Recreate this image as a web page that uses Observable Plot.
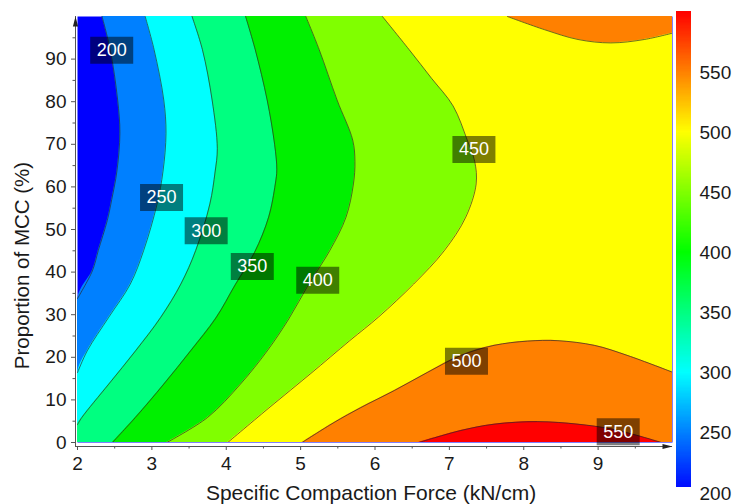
<!DOCTYPE html>
<html><head><meta charset="utf-8">
<script src="https://cdn.jsdelivr.net/npm/d3@7"></script>
<script src="https://cdn.jsdelivr.net/npm/@observablehq/plot@0.6"></script>
<style>
body{margin:0;background:#fff;}
#wrap{position:relative;width:732px;height:504px;}
#wrap svg{position:absolute;top:0;overflow:visible;}
</style></head><body><div id="wrap"></div>
<script>
// ---- data ----
const xDomain = [2, 10];
const yDomain = [0, 100];
const xTicks = [2, 3, 4, 5, 6, 7, 8, 9];
const xMinorTicks = [2.5, 3.5, 4.5, 5.5, 6.5, 7.5, 8.5, 9.5];
const yTicks = [0, 10, 20, 30, 40, 50, 60, 70, 80, 90];
const yMinorTicks = [5, 15, 25, 35, 45, 55, 65, 75, 85, 95];
const levels = [200, 250, 300, 350, 400, 450, 500, 550];
const bandColors = ["#0000ff", "#0080ff", "#00ffff", "#00ff80", "#00f000", "#80ff00", "#ffff00", "#ff8000", "#ff0000"];

// contour lines [x, y] (left family: x as a function of y)
const c200 = [[2,33.8],[2.20,40.3],[2.28,45.1],[2.40,52.1],[2.46,57],[2.53,63.7],[2.57,72.6],[2.54,80.4],[2.44,92.2],[2.33,100]];
const c250 = [[2,16.4],[2.13,21.5],[2.42,29.4],[2.71,37.2],[2.89,45.1],[3.07,56.0],[3.15,63.7],[3.19,72.6],[3.16,80.4],[3.03,92.2],[2.91,100]];
const c300 = [[2,4.2],[2.06,5.9],[2.42,13.7],[2.78,21.5],[3.12,29.4],[3.39,37.2],[3.59,45.1],[3.78,56.0],[3.85,63.5],[3.88,69],[3.81,80.4],[3.68,92.2],[3.54,100]];
const c350 = [[2.47,0],[2.78,5.9],[3.16,13.7],[3.52,21.5],[3.86,29.2],[4.12,37],[4.38,44.6],[4.57,52.9],[4.66,60.7],[4.68,64],[4.65,70],[4.55,80.4],[4.39,92.2],[4.26,100]];
const c400 = [[3.2,0],[3.75,5.9],[4.19,13.7],[4.55,21.5],[4.84,29],[5.11,37.2],[5.39,45.0],[5.61,52.9],[5.71,60.7],[5.73,66],[5.70,71],[5.49,80.4],[5.25,92.2],[5.07,100]];
const c450 = [[4.02,0],[4.6,8.5],[5.13,16.1],[5.66,23.9],[6.05,29.5],[6.52,37.2],[6.93,45.0],[7.22,52.9],[7.36,60.7],[7.34,66],[7.24,71],[7.05,79],[6.76,85.5],[6.46,92.2],[6.10,100]];
// right family: y as a function of x
const c500Bottom = [[5.02,0],[5.45,4.7],[5.81,8.2],[6.26,12.2],[6.71,16.5],[7.15,20.4],[7.60,22.8],[8.05,23.8],[8.46,23.9],[8.95,22.8],[9.40,20.4],[10,16.5]];
const c500Top = [[7.78,100],[8.28,96.9],[8.73,94.6],[9.17,93.8],[9.62,94.6],[10,96.1]];
const c550 = [[6.59,0],[7.15,2.8],[7.60,4.3],[8.19,4.9],[8.73,4.3],[9.17,3.2],[9.62,1.2],[9.85,0]];

const labelValues = [200, 250, 300, 350, 400, 450, 500, 550];
const labelX = [2.46, 3.13, 3.73, 4.35, 5.23, 7.33, 7.23, 9.27];
const labelY = [92.1, 57.5, 49.7, 41.3, 38.1, 68.8, 19.1, 2.5];

const colorbarTicks = [200, 250, 300, 350, 400, 450, 500, 550];
const colorbarStops = [200, 250, 300, 350, 400, 450, 500, 550, 600];
const colorbarColors = ["#0000ff", "#0080ff", "#00ffff", "#00ff80", "#00ff00", "#80ff00", "#ffff00", "#ff8000", "#ff0000"];
const colorbarRange = [205, 600];

const xTitle = "Specific Compaction Force (kN/cm)";
const yTitle = "Proportion of MCC (%)";

// ---- drawing ----
const font = "Arial, 'Liberation Sans', sans-serif";
const colorOf = v => bandColors[levels.indexOf(v) + 1];
const X = d => d[0], Y = d => d[1];
const curve = "catmull-rom";
const lineStyle = {stroke: "#2a2a2a", strokeWidth: 0.8, strokeOpacity: 0.85, clip: true};

const leftSets = [[200, c200], [250, c250], [300, c300], [350, c350], [400, c400], [450, c450]];
const leftAreas = leftSets.map(([lv, pts]) =>
  Plot.areaX(pts[0][1] > yDomain[0] ? [[xDomain[0], yDomain[0]], ...pts] : pts,
    {y: Y, x1: X, x2: () => xDomain[1], fill: colorOf(lv), curve, clip: true}));
const leftLines = leftSets.map(([lv, pts]) => Plot.line(pts, {x: X, y: Y, curve, ...lineStyle}));

const rightAreas = [
  Plot.areaY(c500Bottom, {x: X, y1: () => yDomain[0], y2: Y, fill: colorOf(500), curve, clip: true}),
  Plot.areaY(c500Top, {x: X, y1: Y, y2: () => yDomain[1], fill: colorOf(500), curve, clip: true}),
  Plot.areaY(c550, {x: X, y1: () => yDomain[0], y2: Y, fill: colorOf(550), curve, clip: true})
];
const rightLines = [c500Bottom, c500Top, c550].map(pts => Plot.line(pts, {x: X, y: Y, curve, ...lineStyle}));

const labels = labelValues.map((v, i) => ({v, x: labelX[i], y: labelY[i]}));
const boxSymbol = {draw(ctx) { ctx.rect(-21.5, -13.5, 43, 27); }};
const arrowRight = {draw(ctx) { ctx.moveTo(0, 0); ctx.lineTo(-10, -2.6); ctx.lineTo(-10, 2.6); ctx.closePath(); }};
const arrowUp = {draw(ctx) { ctx.moveTo(0, 0); ctx.lineTo(-2.6, 10); ctx.lineTo(2.6, 10); ctx.closePath(); }};

const main = Plot.plot({
  width: 732, height: 504,
  marginLeft: 77, marginRight: 60, marginTop: 16, marginBottom: 62,
  x: {domain: xDomain},
  y: {domain: yDomain},
  style: {fontFamily: font, fontSize: "19px", color: "#1a1a1a", background: "transparent"},
  marks: [
    Plot.frame({fill: bandColors[0], stroke: null}),
    ...leftAreas,
    ...rightAreas,
    ...leftLines,
    ...rightLines,
    Plot.dot(labels, {x: "x", y: "y", symbol: boxSymbol, fill: "#000", fillOpacity: 0.5, stroke: "none"}),
    Plot.text(labels, {x: "x", y: "y", text: d => String(d.v), fill: "white", fontSize: 18, fontFamily: font}),
    Plot.ruleY([yDomain[0]], {dy: 4, stroke: "#555", insetLeft: -2}),
    Plot.ruleX([xDomain[0]], {dx: -2, stroke: "#555", insetBottom: -4}),
    Plot.axisX(xTicks, {anchor: "bottom", tickSize: 4, tickPadding: 6, dy: 4, label: null, stroke: "#555", fill: "#1a1a1a", tickFormat: d => String(d)}),
    Plot.axisX(xMinorTicks, {anchor: "bottom", tickSize: 2.5, dy: 4, label: null, stroke: "#555", tickFormat: () => ""}),
    Plot.axisY(yTicks, {anchor: "left", tickSize: 4, tickPadding: 5, dx: -2, label: null, stroke: "#555", fill: "#1a1a1a", tickFormat: d => String(d)}),
    Plot.axisY(yMinorTicks, {anchor: "left", tickSize: 2.5, dx: -2, label: null, stroke: "#555", tickFormat: () => ""}),
    Plot.dot([[xDomain[1], yDomain[0]]], {x: X, y: Y, dy: 4, symbol: arrowRight, fill: "#222", stroke: "none"}),
    Plot.dot([[xDomain[0], yDomain[1]]], {x: X, y: Y, dx: -2, symbol: arrowUp, fill: "#222", stroke: "none"}),
    Plot.text([xTitle], {frameAnchor: "bottom", dx: -4, dy: 57, fontSize: 21, fill: "#1a1a1a"}),
    Plot.text([yTitle], {frameAnchor: "left", dx: -55, dy: 36, rotate: -90, textAnchor: "middle", fontSize: 20.5, fill: "#1a1a1a"})
  ]
});

const ramp = d3.range(colorbarRange[0], colorbarRange[1], 1);
const bar = Plot.plot({
  width: 60, height: 504,
  marginLeft: 4, marginRight: 41, marginTop: 12, marginBottom: 11,
  y: {domain: [200, 600]},
  color: {type: "linear", domain: colorbarStops, range: colorbarColors},
  style: {fontFamily: font, fontSize: "19px", color: "#1a1a1a", background: "transparent"},
  marks: [
    Plot.rect(ramp, {y1: d => d, y2: d => d + 1.5, fill: d => d, shapeRendering: "crispEdges"}),
    Plot.axisY(colorbarTicks, {anchor: "right", tickSize: 0, tickPadding: 8, label: null, fill: "#1a1a1a", tickFormat: d => String(d)})
  ]
});
bar.style.left = "672px";
main.style.left = "0px";
const wrap = document.getElementById("wrap");
wrap.appendChild(main);
wrap.appendChild(bar);
</script></body></html>
